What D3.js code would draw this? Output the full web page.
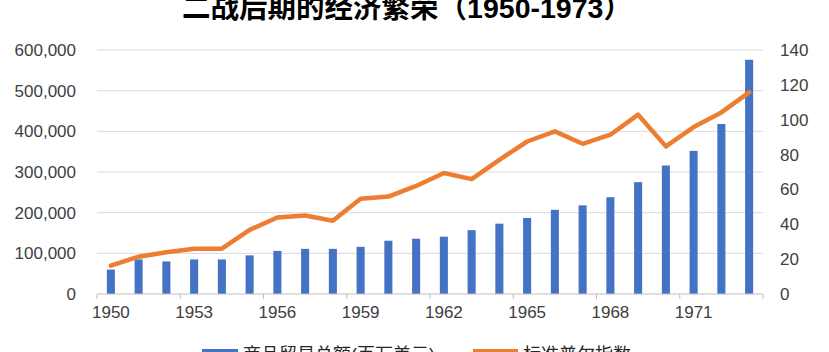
<!DOCTYPE html>
<html>
<head>
<meta charset="utf-8">
<script src="https://cdn.jsdelivr.net/npm/d3@7"></script>
<style>
  body { margin: 0; background: #fff; }
  svg text { font-family: "Liberation Sans", "Noto Sans CJK SC", sans-serif; fill: #404040; }
</style>
</head>
<body>
<svg id="svg"></svg>
<script>
// data
let years = [1950, 1951, 1952, 1953, 1954, 1955, 1956, 1957, 1958, 1959, 1960, 1961,
             1962, 1963, 1964, 1965, 1966, 1967, 1968, 1969, 1970, 1971, 1972, 1973]
let trade = [60000, 85000, 80000, 85000, 85000, 95000, 106000, 111000, 111000, 116000, 131000, 136000,
             141000, 157000, 173000, 187000, 207000, 218000, 238000, 275000, 316000, 352000, 418000, 576000]
let sp = [16.3, 21.4, 24, 26, 26, 36.8, 43.9, 45, 42, 54.6, 55.9, 62,
          69.4, 65.9, 77, 87.5, 93.3, 86.2, 91.4, 102.9, 84.7, 95.8, 104.2, 115.7]
let leftTicks = [0, 100000, 200000, 300000, 400000, 500000, 600000]
let rightTicks = [0, 20, 40, 60, 80, 100, 120, 140]
let xLabels = [1950, 1953, 1956, 1959, 1962, 1965, 1968, 1971]
let seriesNames = ["商品贸易总额(百万美元)", "标准普尔指数"]

// colors
let blue = "#4472c4"
let orange = "#ed7d31"
let grid = "#d9d9d9"

let width = 829, height = 352
let svg = d3.select("#svg").attr("width", width).attr("height", height)

let plotLeft = 97, plotRight = 763, plotTop = 50, plotBottom = 294

let x = d3.scaleBand().domain(years).range([plotLeft, plotRight]).padding(0)
let yL = d3.scaleLinear().domain([0, 600000]).range([plotBottom, plotTop])
let yR = d3.scaleLinear().domain([0, 140]).range([plotBottom, plotTop])

// gridlines
svg.append("g").selectAll("line")
  .data(leftTicks.slice(1))
  .join("line")
  .attr("x1", plotLeft).attr("x2", plotRight)
  .attr("y1", d => yL(d)).attr("y2", d => yL(d))
  .attr("stroke", grid).attr("stroke-width", 1)

// bars
let barW = x.bandwidth() * 0.29
svg.append("g").selectAll("rect")
  .data(years)
  .join("rect")
  .attr("x", (d) => x(d) + (x.bandwidth() - barW) / 2)
  .attr("y", (d, i) => yL(trade[i]))
  .attr("width", barW)
  .attr("height", (d, i) => plotBottom - yL(trade[i]))
  .attr("fill", blue)

// x axis line and ticks
svg.append("line")
  .attr("x1", plotLeft).attr("x2", plotRight)
  .attr("y1", plotBottom).attr("y2", plotBottom)
  .attr("stroke", "#bfbfbf")
let tickPos = years.filter((d, i) => i % 3 === 0).map(d => x(d)).concat([plotRight])
svg.append("g").selectAll("line")
  .data(tickPos)
  .join("line")
  .attr("x1", d => d).attr("x2", d => d)
  .attr("y1", plotBottom).attr("y2", plotBottom + 5)
  .attr("stroke", "#bfbfbf")

// line series
let line = d3.line()
  .x((d, i) => x(years[i]) + x.bandwidth() / 2)
  .y(d => yR(d))
svg.append("path")
  .datum(sp)
  .attr("d", line)
  .attr("fill", "none")
  .attr("stroke", orange)
  .attr("stroke-width", 4.5)
  .attr("stroke-linejoin", "round")
  .attr("stroke-linecap", "round")

// axes labels
let xAxis = d3.axisBottom(x).tickValues(xLabels).tickSize(0).tickPadding(12)
let gx = svg.append("g").attr("transform", `translate(0,${plotBottom})`).call(xAxis)
gx.select(".domain").remove()
gx.selectAll("text").style("font-size", "17px")

let fmt = d3.format(",")
let gl = svg.append("g").attr("transform", `translate(${plotLeft},0)`)
  .call(d3.axisLeft(yL).tickValues(leftTicks).tickFormat(fmt).tickSize(0).tickPadding(21))
gl.select(".domain").remove()
gl.selectAll("text").style("font-size", "17px")

let gr = svg.append("g").attr("transform", `translate(${plotRight},0)`)
  .call(d3.axisRight(yR).tickValues(rightTicks).tickSize(0).tickPadding(17))
gr.select(".domain").remove()
gr.selectAll("text").style("font-size", "17px")

// title
svg.append("text")
  .attr("x", 407).attr("y", 18)
  .attr("text-anchor", "middle")
  .style("font-size", "28.5px")
  .style("font-weight", "bold")
  .style("fill", "#000")
  .text("二战后期的经济繁荣（1950-1973）")

// legend
let legend = svg.append("g")
legend.append("rect").attr("x", 202).attr("y", 349).attr("width", 36).attr("height", 8).attr("fill", blue)
legend.append("text").attr("x", 243).attr("y", 361).style("font-size", "18px").style("fill", "#262626").text(seriesNames[0])
legend.append("rect").attr("x", 473).attr("y", 349).attr("width", 45).attr("height", 8).attr("fill", orange)
legend.append("text").attr("x", 523).attr("y", 361).style("font-size", "18px").style("fill", "#262626").text(seriesNames[1])
</script>
</body>
</html>
